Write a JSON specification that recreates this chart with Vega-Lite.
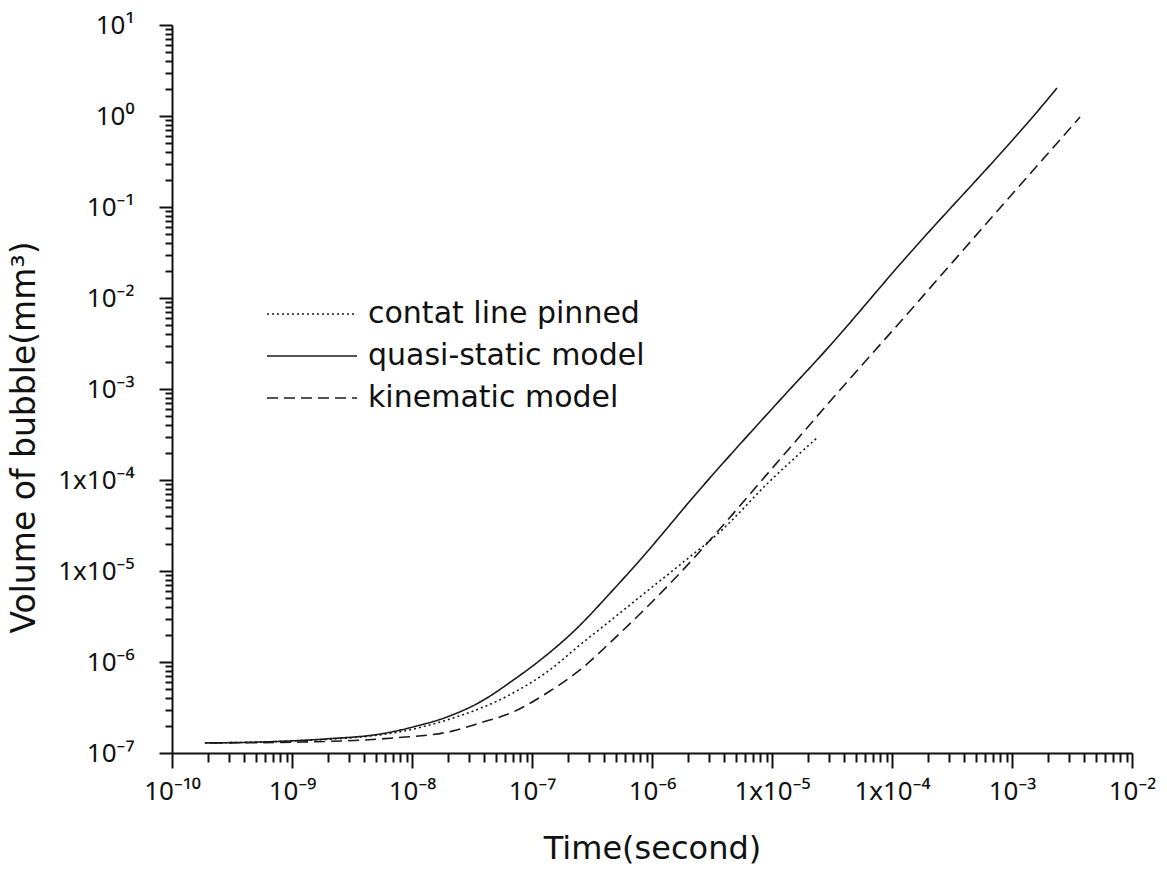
{
  "$schema": "https://vega.github.io/schema/vega-lite/v6.json",
  "width": 960,
  "height": 728,
  "autosize": {"type": "none"},
  "padding": {"left": 172, "top": 25, "right": 35, "bottom": 119},
  "background": "white",
  "data": {
    "values": [
      {"series": "contat line pinned", "t": 1.88e-10, "v": 1.29e-7},
      {"series": "contat line pinned", "t": 1e-9, "v": 1.355e-7},
      {"series": "contat line pinned", "t": 6.95e-9, "v": 1.66e-7},
      {"series": "contat line pinned", "t": 1.96e-8, "v": 2.31e-7},
      {"series": "contat line pinned", "t": 6.95e-8, "v": 4.56e-7},
      {"series": "contat line pinned", "t": 1.33e-7, "v": 7.76e-7},
      {"series": "contat line pinned", "t": 2.51e-7, "v": 1.54e-6},
      {"series": "contat line pinned", "t": 4.73e-7, "v": 3.0e-6},
      {"series": "contat line pinned", "t": 9.08e-7, "v": 6.0e-6},
      {"series": "contat line pinned", "t": 1.71e-6, "v": 1.17e-5},
      {"series": "contat line pinned", "t": 3.91e-6, "v": 2.9e-5},
      {"series": "contat line pinned", "t": 9.08e-6, "v": 9.04e-5},
      {"series": "contat line pinned", "t": 2.37e-5, "v": 2.9e-4},
      {"series": "quasi-static model", "t": 1.88e-10, "v": 1.29e-7},
      {"series": "quasi-static model", "t": 5.4e-10, "v": 1.32e-7},
      {"series": "quasi-static model", "t": 1.96e-9, "v": 1.43e-7},
      {"series": "quasi-static model", "t": 5.5e-9, "v": 1.62e-7},
      {"series": "quasi-static model", "t": 1.02e-8, "v": 1.93e-7},
      {"series": "quasi-static model", "t": 1.96e-8, "v": 2.49e-7},
      {"series": "quasi-static model", "t": 3.69e-8, "v": 3.63e-7},
      {"series": "quasi-static model", "t": 6.95e-8, "v": 6.3e-7},
      {"series": "quasi-static model", "t": 1.33e-7, "v": 1.2e-6},
      {"series": "quasi-static model", "t": 2.2e-7, "v": 2.14e-6},
      {"series": "quasi-static model", "t": 4.73e-7, "v": 6.18e-6},
      {"series": "quasi-static model", "t": 7.94e-7, "v": 1.32e-5},
      {"series": "quasi-static model", "t": 2.51e-6, "v": 7.9e-5},
      {"series": "quasi-static model", "t": 1.17e-5, "v": 7.6e-4},
      {"series": "quasi-static model", "t": 2.87e-5, "v": 2.75e-3},
      {"series": "quasi-static model", "t": 1.17e-4, "v": 2.36e-2},
      {"series": "quasi-static model", "t": 1.96e-3, "v": 1.5},
      {"series": "quasi-static model", "t": 2.37e-3, "v": 2.03},
      {"series": "kinematic model", "t": 2.16e-10, "v": 1.29e-7},
      {"series": "kinematic model", "t": 1.17e-9, "v": 1.32e-7},
      {"series": "kinematic model", "t": 6.95e-9, "v": 1.46e-7},
      {"series": "kinematic model", "t": 2.2e-8, "v": 1.75e-7},
      {"series": "kinematic model", "t": 3.69e-8, "v": 2.14e-7},
      {"series": "kinematic model", "t": 6.95e-8, "v": 2.82e-7},
      {"series": "kinematic model", "t": 1.33e-7, "v": 4.56e-7},
      {"series": "kinematic model", "t": 2.51e-7, "v": 8.17e-7},
      {"series": "kinematic model", "t": 4.73e-7, "v": 1.75e-6},
      {"series": "kinematic model", "t": 9.08e-7, "v": 4.02e-6},
      {"series": "kinematic model", "t": 1.71e-6, "v": 9.5e-6},
      {"series": "kinematic model", "t": 1.17e-5, "v": 1.7e-4},
      {"series": "kinematic model", "t": 3.22e-5, "v": 7.96e-4},
      {"series": "kinematic model", "t": 1.17e-4, "v": 5.45e-3},
      {"series": "kinematic model", "t": 7.94e-4, "v": 9.75e-2},
      {"series": "kinematic model", "t": 3.69e-3, "v": 0.975}
    ]
  },
  "mark": {"type": "line", "color": "#1a1a1a", "strokeWidth": 1.6, "interpolate": "monotone"},
  "encoding": {
    "x": {
      "field": "t",
      "type": "quantitative",
      "scale": {"type": "log", "domain": [1e-10, 1e-2], "nice": false},
      "axis": {
        "title": "Time(second)",
        "grid": false,
        "values": [1e-10,2e-10,3e-10,4e-10,5e-10,6e-10,7e-10,8e-10,9e-10,1e-9,2e-9,3e-9,4e-9,5e-9,6e-9,7e-9,8e-9,9e-9,1e-8,2e-8,3e-8,4e-8,5e-8,6e-8,7e-8,8e-8,9e-8,1e-7,2e-7,3e-7,4e-7,5e-7,6e-7,7e-7,8e-7,9e-7,1e-6,2e-6,3e-6,4e-6,5e-6,6e-6,7e-6,8e-6,9e-6,1e-5,2e-5,3e-5,4e-5,5e-5,6e-5,7e-5,8e-5,9e-5,1e-4,2e-4,3e-4,4e-4,5e-4,6e-4,7e-4,8e-4,9e-4,1e-3,2e-3,3e-3,4e-3,5e-3,6e-3,7e-3,8e-3,9e-3,1e-2],
        "labelExpr": "abs(log(datum.value)/LN10 - round(log(datum.value)/LN10)) < 0.001 ? ['10⁻¹⁰','10⁻⁹','10⁻⁸','10⁻⁷','10⁻⁶','1x10⁻⁵','1x10⁻⁴','10⁻³','10⁻²'][round(log(datum.value)/LN10)+10] : ''",
        "labelFlush": false,
        "labelOverlap": false,
        "tickSize": {"condition": {"test": "abs(log(datum.value)/LN10 - round(log(datum.value)/LN10)) < 0.001", "value": 15}, "value": 9},
        "tickWidth": 2,
        "tickColor": "#111",
        "domainColor": "#111",
        "domainWidth": 2,
        "labelFont": "Noto Sans",
        "labelFontSize": 26,
        "labelColor": "#111",
        "labelPadding": 10,
        "titleFont": "DejaVu Sans",
        "titleFontSize": 32,
        "titleFontWeight": "normal",
        "titleColor": "#111",
        "titlePadding": 29
      }
    },
    "y": {
      "field": "v",
      "type": "quantitative",
      "scale": {"type": "log", "domain": [1e-7, 10], "nice": false},
      "axis": {
        "title": "Volume of bubble(mm³)",
        "grid": false,
        "values": [1e-7,2e-7,3e-7,4e-7,5e-7,6e-7,7e-7,8e-7,9e-7,1e-6,2e-6,3e-6,4e-6,5e-6,6e-6,7e-6,8e-6,9e-6,1e-5,2e-5,3e-5,4e-5,5e-5,6e-5,7e-5,8e-5,9e-5,1e-4,2e-4,3e-4,4e-4,5e-4,6e-4,7e-4,8e-4,9e-4,1e-3,2e-3,3e-3,4e-3,5e-3,6e-3,7e-3,8e-3,9e-3,1e-2,2e-2,3e-2,4e-2,5e-2,6e-2,7e-2,8e-2,9e-2,1e-1,2e-1,3e-1,4e-1,5e-1,6e-1,7e-1,8e-1,9e-1,1,2,3,4,5,6,7,8,9,10],
        "labelExpr": "abs(log(datum.value)/LN10 - round(log(datum.value)/LN10)) < 0.001 ? ['10⁻⁷','10⁻⁶','1x10⁻⁵','1x10⁻⁴','10⁻³','10⁻²','10⁻¹','10⁰','10¹'][round(log(datum.value)/LN10)+7] : ''",
        "labelFlush": false,
        "labelOverlap": false,
        "tickSize": {"condition": {"test": "abs(log(datum.value)/LN10 - round(log(datum.value)/LN10)) < 0.001", "value": 13}, "value": 7},
        "tickWidth": 2,
        "tickColor": "#111",
        "domainColor": "#111",
        "domainWidth": 2,
        "labelFont": "Noto Sans",
        "labelFontSize": 26,
        "labelColor": "#111",
        "labelPadding": 25,
        "titleFont": "DejaVu Sans",
        "titleFontSize": 33,
        "titleFontWeight": "normal",
        "titleColor": "#111",
        "titlePadding": 16,
        "titleY": 412
      }
    },
    "strokeDash": {
      "field": "series",
      "type": "nominal",
      "scale": {
        "domain": ["contat line pinned", "quasi-static model", "kinematic model"],
        "range": [[2, 3], [1, 0], [11, 6]]
      },
      "legend": {
        "orient": "none",
        "legendX": 94,
        "legendY": 271,
        "title": null,
        "symbolType": "stroke",
        "symbolSize": 8100,
        "symbolStrokeWidth": 1.6,
        "symbolStrokeColor": "#1a1a1a",
        "labelFont": "DejaVu Sans",
        "labelFontSize": 30,
        "labelColor": "#111",
        "labelOffset": 10,
        "labelLimit": 500,
        "clipHeight": 36,
        "rowPadding": 6,
        "padding": 0
      }
    }
  },
  "config": {"view": {"stroke": null}}
}
